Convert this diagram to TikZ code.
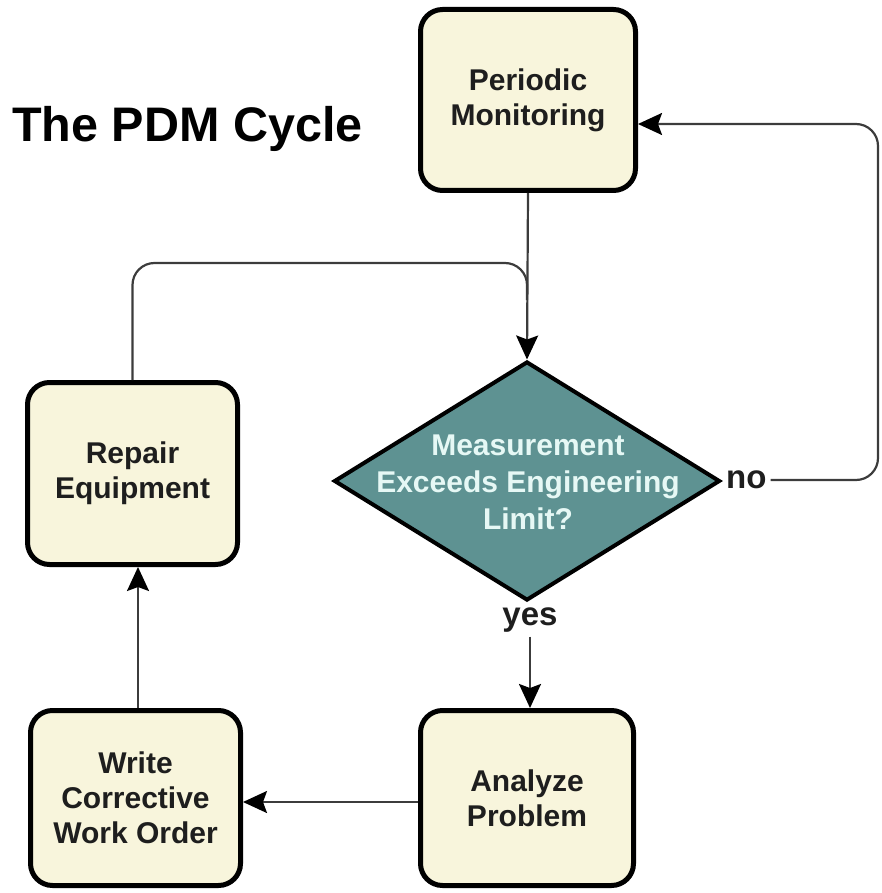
\documentclass[tikz,border=0pt]{standalone}
\usepackage{fontspec}
\setmainfont{Liberation Sans}
\usetikzlibrary{arrows.meta,shapes.geometric}
\definecolor{boxfill}{HTML}{F8F5DC}
\definecolor{decfill}{HTML}{5E9292}
\definecolor{dectext}{HTML}{E6F8F5}
\definecolor{txt}{HTML}{1E1E1E}
\definecolor{conn}{HTML}{3C3C3C}
\begin{document}
\begin{tikzpicture}[x=1pt,y=-1pt,
  stepbox/.style={draw=black, line width=5pt, fill=boxfill, rounded corners=22pt,
    align=center, text=txt, font=\fontsize{30}{35}\selectfont\bfseries, inner sep=0pt},
  decbox/.style={draw=black, line width=4pt, fill=decfill, diamond, inner sep=0pt,
    minimum width=386pt, minimum height=239pt},
  dectxt/.style={align=center, text=dectext, font=\fontsize{30}{37}\selectfont\bfseries},
  lbl/.style={text=txt, font=\fontsize{33}{36}\selectfont\bfseries, inner sep=4pt},
  conn/.style={draw=conn, line width=2.2pt},
  arr/.style={conn, -{Stealth[length=24pt,width=22pt,inset=4pt,black]}},
  ]
\useasboundingbox (0,0) rectangle (881,893);
\node[anchor=base west, inner sep=0pt, font=\fontsize{48.5}{50}\selectfont\bfseries, text=black]
  (title) at (12,142) {The PDM Cycle};
\node[stepbox, minimum width=215pt, minimum height=181pt] (per) at (528,100) {Periodic\\Monitoring};
\node[stepbox, minimum width=210pt, minimum height=182pt] (rep) at (132.5,473.5) {Repair\\Equipment};
\node[stepbox, minimum width=210pt, minimum height=175pt] (wri) at (135.5,798) {Write\\Corrective\\Work Order};
\node[stepbox, minimum width=213pt, minimum height=175pt] (ana) at (527,798) {Analyze\\Problem};
\node[decbox] (dec) at (527,481) {};
\node[dectxt] (dect) at (528,482) {Measurement\\Exceeds Engineering\\Limit?};
\node[lbl, anchor=west] (no) at (722,480) {no};
\node[lbl] (yes) at (530,620) {yes};
\coordinate (nr) at (878,124);
\coordinate (join) at (527,300);
\coordinate (top) at (527,263);
% connectors
\draw[arr] (per.south) -- (dec.north);
\draw[conn, rounded corners=22pt] (rep.north) |- (top) -- (join);
\draw[arr, rounded corners=22pt] (no.east) -- (no.east -| nr) -- (nr) -- (per.east |- nr);
\draw[arr] (yes.south) -- (yes.south |- ana.north);
\draw[arr] (ana.west |- 0,802) -- (wri.east |- 0,802);
\draw[arr] (wri.north -| 138,0) -- (rep.south -| 138,0);
\end{tikzpicture}
\end{document}
